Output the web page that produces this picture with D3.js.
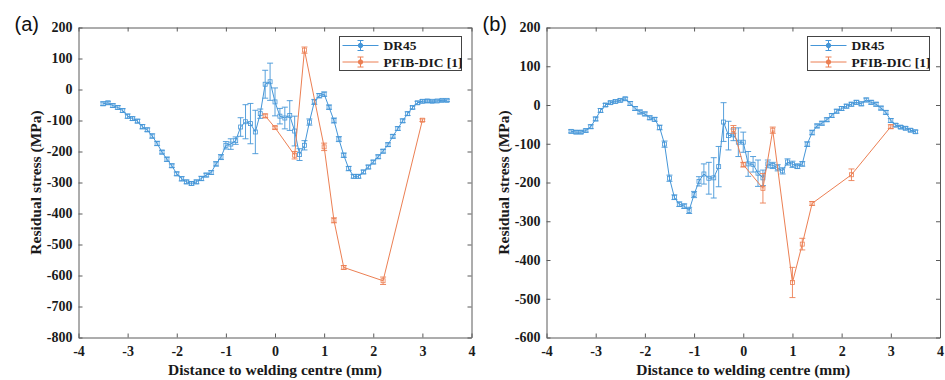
<!DOCTYPE html>
<html><head><meta charset="utf-8">
<script src="https://cdn.jsdelivr.net/npm/d3@7"></script>
<style>body{margin:0;background:#fff}svg{display:block}</style>
</head><body>
<svg id="c" width="945" height="380"></svg>
<script>
// ---------- data ----------
const xGrid = [-3.5,-3.4,-3.3,-3.2,-3.1,-3.0,-2.9,-2.8,-2.7,-2.6,-2.5,-2.4,-2.3,-2.2,-2.1,-2.0,-1.9,-1.8,-1.7,-1.6,-1.5,-1.4,-1.3,-1.2,-1.1,-1.0,-0.9,-0.8,-0.7,-0.6,-0.5,-0.4,-0.3,-0.2,-0.1,0.0,0.1,0.2,0.3,0.4,0.5,0.6,0.7,0.8,0.9,1.0,1.1,1.2,1.3,1.4,1.5,1.6,1.7,1.8,1.9,2.0,2.1,2.2,2.3,2.4,2.5,2.6,2.7,2.8,2.9,3.0,3.1,3.2,3.3,3.4,3.5];

const dr45A = [-46,-43,-52,-58,-68,-86,-94,-102,-120,-130,-150,-174,-202,-225,-246,-272,-288,-298,-303,-298,-287,-276,-268,-240,-218,-180,-176,-165,-121,-104,-110,-137,-78,17,25,-40,-86,-92,-84,-134,-210,-180,-105,-40,-20,-15,-57,-100,-160,-212,-255,-280,-280,-266,-250,-234,-217,-199,-178,-151,-126,-101,-78,-58,-43,-38,-37,-38,-37,-35,-35];
const dr45AErr = [6,5,6,6,6,7,6,6,7,6,7,7,6,7,6,6,7,6,6,6,7,6,6,7,8,12,17,12,30,55,65,70,15,45,60,45,25,35,48,48,19,15,10,8,7,7,7,8,8,7,7,6,6,6,6,6,6,6,6,6,6,6,6,5,5,5,5,4,4,4,4];

const dr45B = [-68,-70,-70,-66,-56,-36,-14,0,6,9,12,16,4,-9,-18,-23,-33,-37,-58,-101,-189,-238,-256,-261,-272,-231,-197,-178,-189,-188,-159,-44,-79,-77,-96,-96,-152,-153,-176,-188,-152,-156,-162,-170,-147,-153,-158,-152,-101,-71,-54,-47,-38,-27,-16,-9,-3,2,7,3,13,7,2,-8,-19,-40,-52,-57,-60,-65,-69];
const dr45BErr = [4,4,4,4,5,5,5,4,4,4,4,4,5,5,5,5,5,5,6,8,8,6,6,6,8,8,12,26,41,52,52,50,37,15,37,26,32,20,34,20,10,8,8,8,8,8,6,6,6,6,5,5,5,5,5,5,5,5,5,5,5,5,5,5,5,5,4,4,4,4,4];

const pfibX = [-0.2,0.0,0.4,0.6,1.0,1.2,1.4,2.2,3.0];
const pfibA = [-85,-123,-212,127,-185,-422,-574,-617,-99];
const pfibAErr = [6,5,12,10,12,8,6,12,4];
const pfibB = [-63,-154,-215,-65,-458,-359,-254,-180,-56];
const pfibBErr = [10,6,38,8,39,15,5,15,5];

const seriesNames = ["DR45","PFIB-DIC [1]"];
const panelLabels = ["(a)","(b)"];
const xTitle = "Distance to welding centre (mm)";
const yTitle = "Residual stress (MPa)";

// ---------- styling / layout ----------
const BLUE = "#4596d8", ORANGE = "#ec7f53", AXIS = "#5a5a5a";
const SERIF = "Liberation Serif";
const SANS = "Liberation Sans";

const panels = [
  {label:panelLabels[0], left:78.5, right:471.5, top:27.5, bottom:337.5, yDomain:[-800,200],
   dr:dr45A, drErr:dr45AErr, pf:pfibA, pfErr:pfibAErr},
  {label:panelLabels[1], left:546.5, right:940, top:27.5, bottom:337.5, yDomain:[-600,200],
   dr:dr45B, drErr:dr45BErr, pf:pfibB, pfErr:pfibBErr}
];

const svg = d3.select("#c");

function drawSeries(g, x, y, xs, vs, es, color){
  const pts = xs.map((d,i)=>({x:d, v:vs[i], e:es[i]}));
  g.append("path").datum(pts)
    .attr("fill","none").attr("stroke",color).attr("stroke-width",1)
    .attr("d", d3.line().x(d=>x(d.x)).y(d=>y(d.v)));
  const eb = g.append("g").attr("stroke",color).attr("stroke-width",0.9).attr("fill","none");
  pts.forEach(d=>{
    const cx = x(d.x), y1 = y(d.v+d.e), y2 = y(d.v-d.e);
    eb.append("line").attr("x1",cx).attr("x2",cx).attr("y1",y1).attr("y2",y2);
    eb.append("line").attr("x1",cx-3).attr("x2",cx+3).attr("y1",y1).attr("y2",y1);
    eb.append("line").attr("x1",cx-3).attr("x2",cx+3).attr("y1",y2).attr("y2",y2);
    eb.append("rect").attr("x",cx-2).attr("y",y(d.v)-2).attr("width",4).attr("height",4)
      .attr("stroke-width",0.8);
  });
}

function txt(sel, size){
  return sel.attr("font-family",SERIF).attr("font-weight","bold")
    .attr("font-size",size).attr("fill","#1a1a1a");
}

panels.forEach(p=>{
  const x = d3.scaleLinear().domain([-4,4]).range([p.left,p.right]);
  const y = d3.scaleLinear().domain(p.yDomain).range([p.bottom,p.top]);
  const g = svg.append("g");
  const fmt = d=>String(d);

  const styleAxis = (ag)=>{
    ag.attr("color",AXIS);
    ag.selectAll("text").call(t=>txt(t,14));
  };
  g.append("g").attr("transform",`translate(0,${p.bottom})`)
    .call(d3.axisBottom(x).ticks(8).tickSize(-4).tickSizeOuter(0).tickPadding(9).tickFormat(fmt))
    .call(styleAxis);
  g.append("g").attr("transform",`translate(${p.left},0)`)
    .call(d3.axisLeft(y).ticks(10).tickSize(-4).tickSizeOuter(0).tickPadding(6).tickFormat(fmt))
    .call(styleAxis);
  g.append("g").attr("transform",`translate(0,${p.top})`)
    .call(d3.axisTop(x).ticks(8).tickSize(-4).tickSizeOuter(0).tickFormat(""))
    .call(styleAxis);
  g.append("g").attr("transform",`translate(${p.right},0)`)
    .call(d3.axisRight(y).ticks(10).tickSize(-4).tickSizeOuter(0).tickFormat(""))
    .call(styleAxis);

  // titles
  txt(g.append("text"),15.5).attr("x",(p.left+p.right)/2).attr("y",375)
    .attr("text-anchor","middle").text(xTitle);
  txt(g.append("text"),15.5).attr("transform",`translate(${p.left-38},${(p.top+p.bottom)/2}) rotate(-90)`)
    .attr("text-anchor","middle").text(yTitle);
  g.append("text").attr("x",p.left-64).attr("y",31)
    .attr("font-family",SANS).attr("font-size",20).attr("fill","#111").text(p.label);

  // data
  drawSeries(g, x, y, xGrid, p.dr, p.drErr, BLUE);
  drawSeries(g, x, y, pfibX, p.pf, p.pfErr, ORANGE);

  // legend
  const lw = 122, lh = 34;
  const lx = Math.round(p.right - 11 - lw) + 0.5, ly = p.top + 9;
  const lg = g.append("g");
  lg.append("rect").attr("x",lx).attr("y",ly).attr("width",lw).attr("height",lh)
    .attr("fill","#fff").attr("stroke","#444").attr("stroke-width",1);
  [BLUE, ORANGE].forEach((c,i)=>{
    const ry = ly + 9 + i*16.5;
    lg.append("line").attr("x1",lx+3).attr("x2",lx+39).attr("y1",ry).attr("y2",ry).attr("stroke",c);
    const mx = lx+21;
    lg.append("line").attr("x1",mx).attr("x2",mx).attr("y1",ry-5).attr("y2",ry+5).attr("stroke",c);
    lg.append("line").attr("x1",mx-3).attr("x2",mx+3).attr("y1",ry-5).attr("y2",ry-5).attr("stroke",c);
    lg.append("line").attr("x1",mx-3).attr("x2",mx+3).attr("y1",ry+5).attr("y2",ry+5).attr("stroke",c);
    lg.append("circle").attr("cx",mx).attr("cy",ry).attr("r",2.2).attr("fill",c).attr("stroke",c);
    txt(lg.append("text"),13.5).attr("x",lx+44).attr("y",ry).attr("dy","0.35em")
      .text(seriesNames[i]);
  });
});
</script>
</body></html>
